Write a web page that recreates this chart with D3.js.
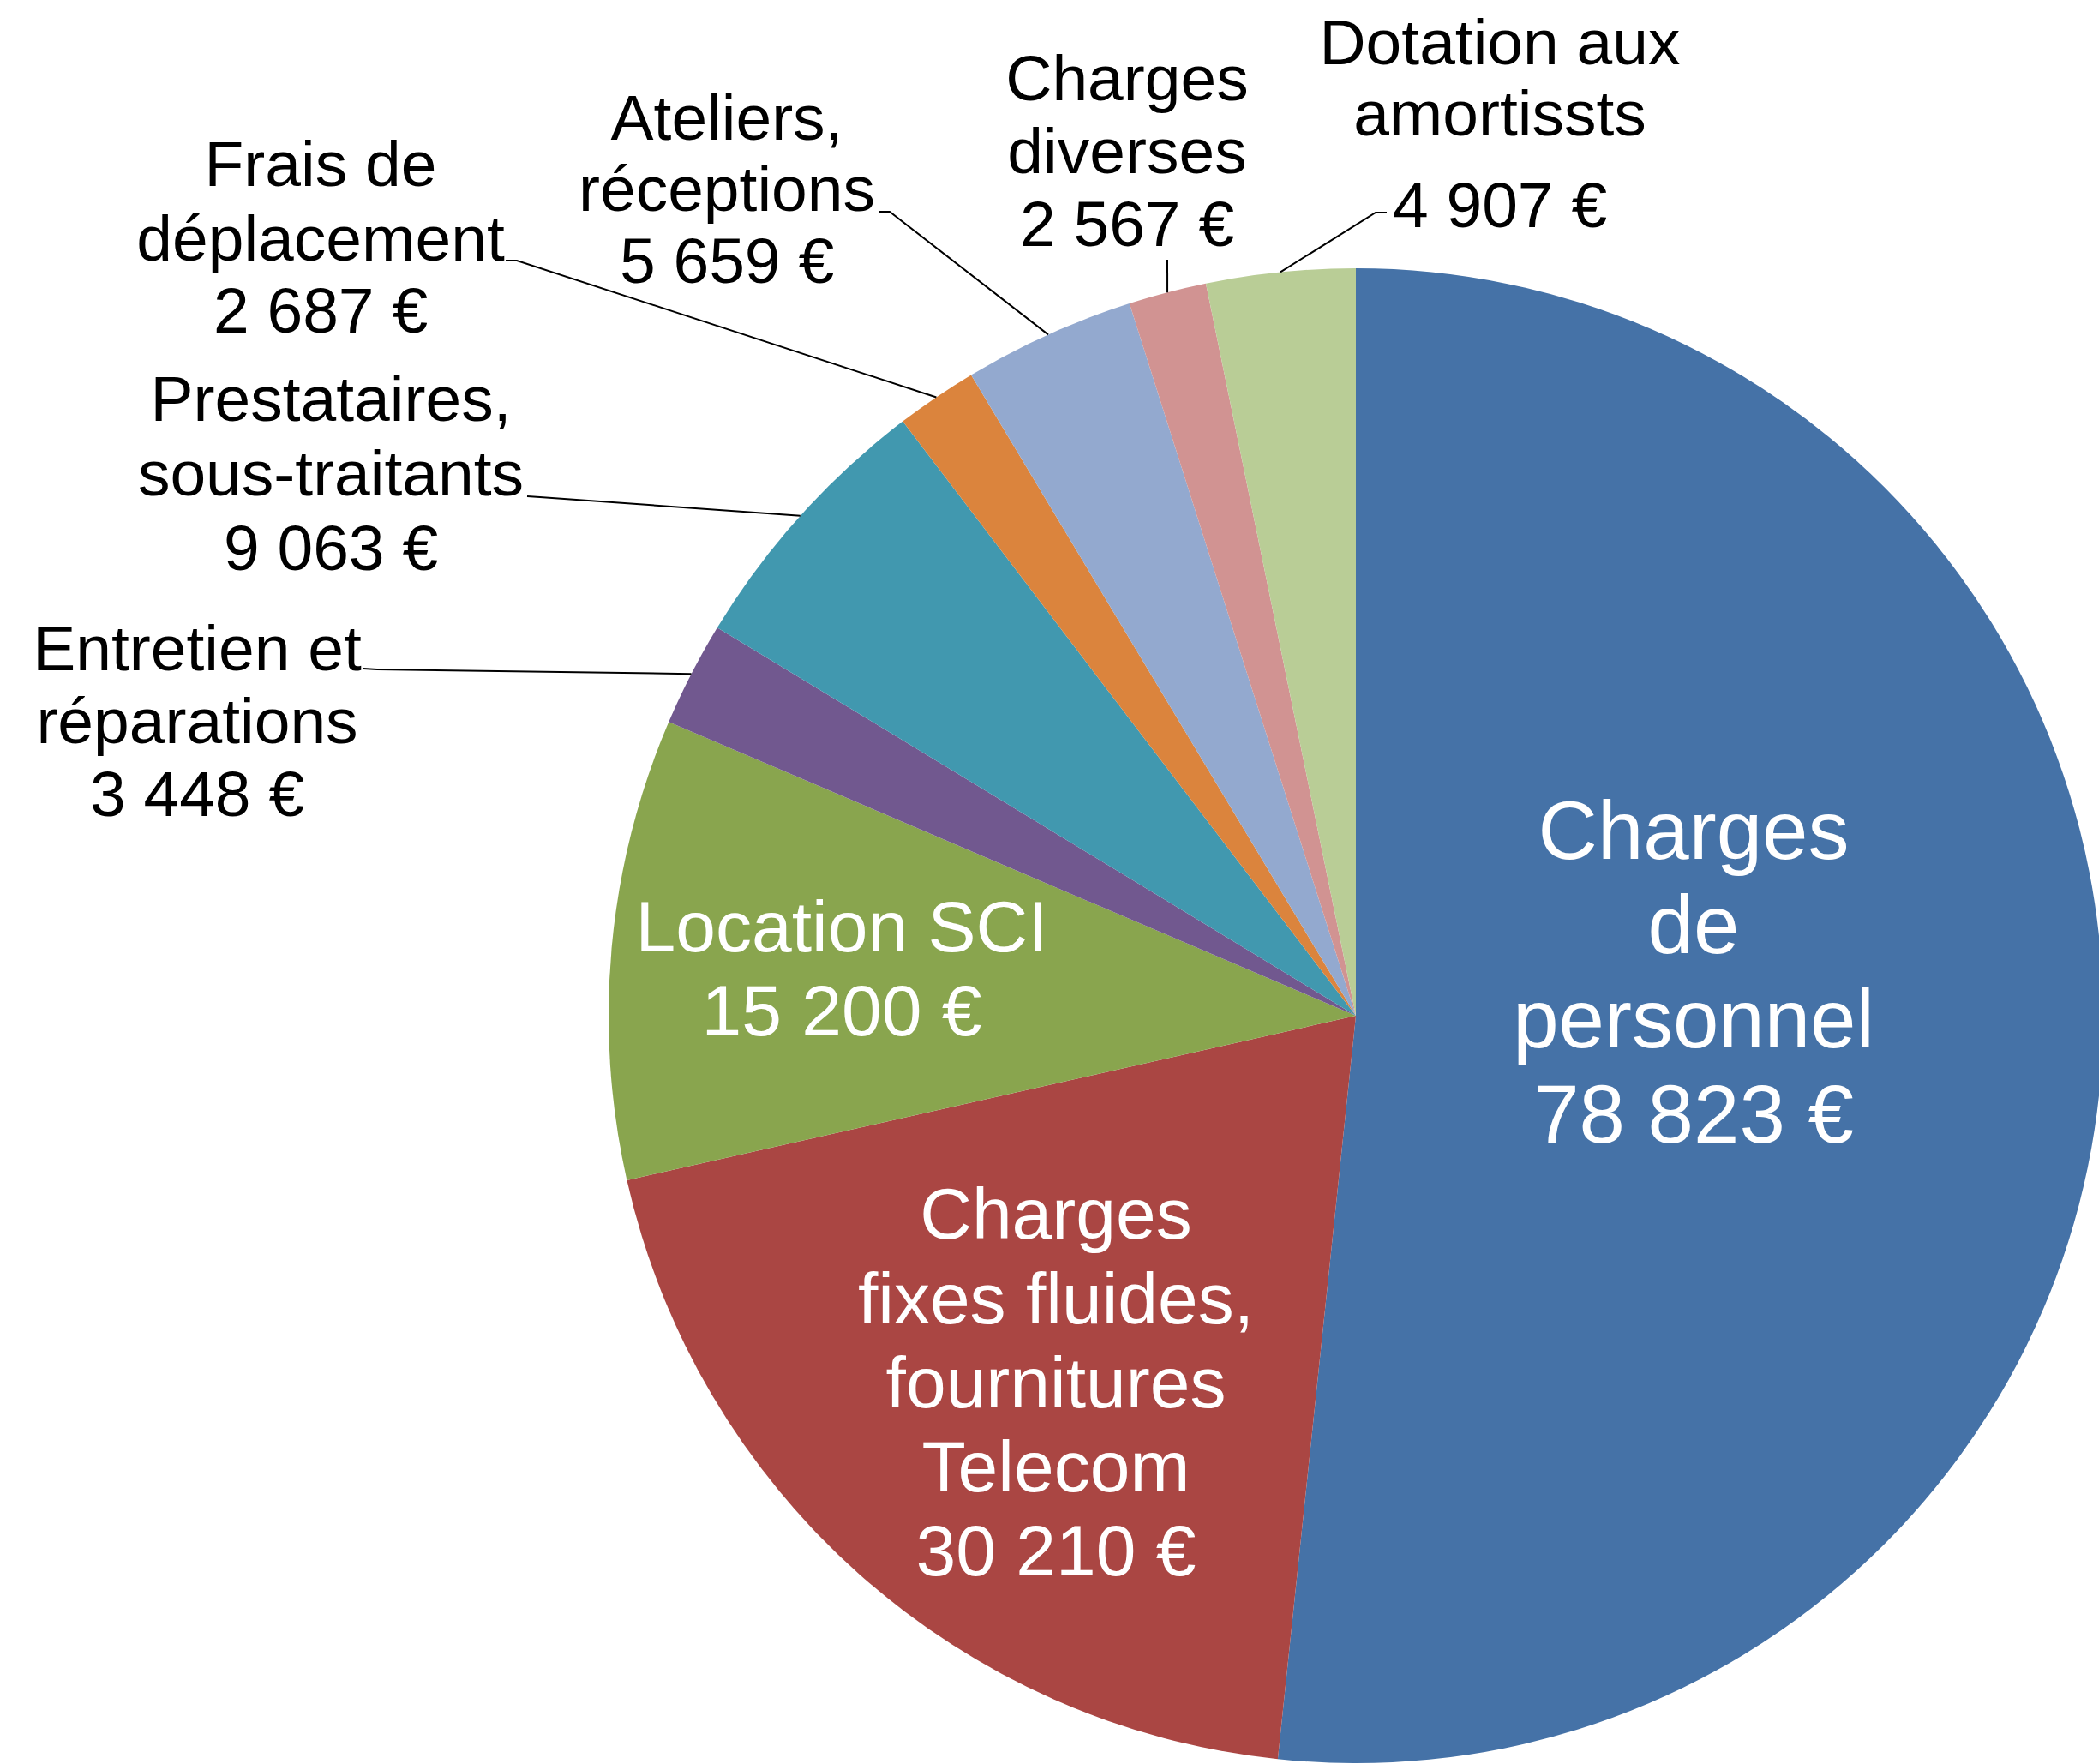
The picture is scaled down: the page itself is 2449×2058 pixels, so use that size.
<!DOCTYPE html>
<html>
<head>
<meta charset="utf-8">
<script src="https://cdn.jsdelivr.net/npm/d3@7"></script>
<style>
  html, body { margin: 0; padding: 0; background: #fff; }
  svg { display: block; }
  text { font-family: "Liberation Sans", Arial, sans-serif; }
</style>
</head>
<body>
<svg id="chart" width="2449" height="2058"></svg>
<script>
// ---- data ----
const categories = [
  "Charges\nde\npersonnel",
  "Charges\nfixes fluides,\nfournitures\nTelecom",
  "Location SCI",
  "Entretien et\nréparations",
  "Prestataires,\nsous-traitants",
  "Frais de\ndéplacement",
  "Ateliers,\nréceptions",
  "Charges\ndiverses",
  "Dotation aux\namortissts"
];
const values = [78823, 30210, 15200, 3448, 9063, 2687, 5659, 2567, 4907];
const colors = ["#4572A7", "#AA4643", "#89A54E", "#71588F", "#4198AF", "#DB843D", "#93A9CF", "#D19392", "#B9CD96"];

// ---- layout ----
const W = 2449, H = 2058;
const cx = 1582, cy = 1185, R = 872;

// label placement (layout only)
const labelLayout = [
  { x: 1976, y: [1002, 1112, 1222, 1333], size: 96, fill: "#fff" },
  { x: 1232, y: [1445, 1544, 1642, 1740, 1838], size: 84, fill: "#fff" },
  { x: 982,  y: [1110, 1208], size: 84, fill: "#fff" },
  { x: 230,  y: [782, 867, 952], size: 75, fill: "#000" },
  { x: 386,  y: [491, 578, 665], size: 75, fill: "#000" },
  { x: 374,  y: [217, 304, 388], size: 75, fill: "#000" },
  { x: 848,  y: [163, 246, 330], size: 75, fill: "#000" },
  { x: 1315, y: [117, 202, 287], size: 75, fill: "#000" },
  { x: 1750, y: [75, 158, 265], size: 75, fill: "#000" }
];
// leader line anchor points near labels (null = label inside slice)
const leaderAnchors = [
  null, null, null,
  [[440, 781], [424, 780]],
  [[630, 580], [615, 579]],
  [[603, 304], [590, 304]],
  [[1038, 247], [1025, 247]],
  [[1362, 303]],
  [[1605, 248], [1618, 248]]
];

const fr = d3.formatLocale({ decimal: ",", thousands: "\u00a0", grouping: [3], currency: ["", "\u00a0€"] });
const fmt = v => fr.format(",")(v) + "\u00a0€";

const svg = d3.select("#chart");

const pie = d3.pie().sort(null).value(d => d);
const arcs = pie(values);
const arc = d3.arc().innerRadius(0).outerRadius(R);
const edgeArc = d3.arc().innerRadius(R).outerRadius(R);

const g = svg.append("g").attr("transform", `translate(${cx},${cy})`);
g.selectAll("path.slice")
  .data(arcs)
  .join("path")
  .attr("class", "slice")
  .attr("d", arc)
  .attr("fill", (d, i) => colors[i]);

// leader lines
const lineGen = d3.line();
arcs.forEach((d, i) => {
  const anchors = leaderAnchors[i];
  if (!anchors) return;
  const c = edgeArc.centroid(d);
  const edge = [c[0] + cx, c[1] + cy];
  svg.append("path")
    .attr("d", lineGen([edge, ...anchors]))
    .attr("fill", "none")
    .attr("stroke", "#000")
    .attr("stroke-width", 2);
});

// labels
arcs.forEach((d, i) => {
  const L = labelLayout[i];
  const lines = categories[i].split("\n").concat([fmt(values[i])]);
  const t = svg.append("text")
    .attr("text-anchor", "middle")
    .attr("font-size", L.size)
    .attr("fill", L.fill);
  lines.forEach((s, k) => {
    t.append("tspan").attr("x", L.x).attr("y", L.y[k]).text(s);
  });
});
</script>
</body>
</html>
